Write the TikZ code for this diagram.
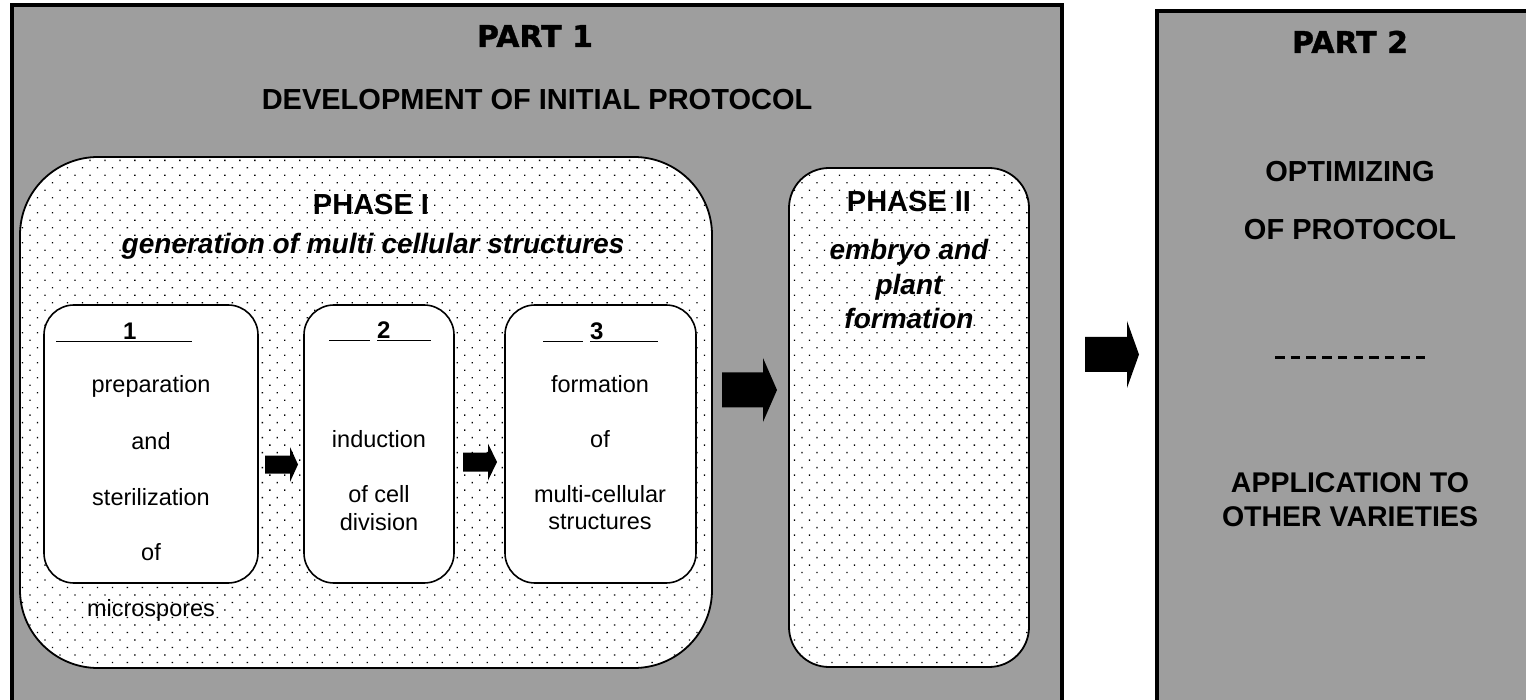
\documentclass[tikz,border=0pt]{standalone}
\usepackage{fontspec}
\setmainfont{Liberation Sans}
\newfontfamily\heavyfont{DejaVu Sans}[BoldFeatures={FakeBold=1.2}]
\usetikzlibrary{patterns.meta}

% solid block arrow: shaft x1..x2, tip at x3, centre line y, half shaft, half head
\newcommand\blockarrow[6]{%
  \fill (#1,#4-#5) -- (#2,#4-#5) -- (#2,#4-#6) -- (#3,#4) -- (#2,#4+#6)
        -- (#2,#4+#5) -- (#1,#4+#5) -- cycle;}

\tikzset{
  partbox/.style={draw=black, line width=3.5pt, fill=black!38},
  phasebox/.style={draw=black, line width=1.8pt, fill=white,
    postaction={pattern={Dots[radius=0.95pt, distance=10.6pt, angle=45]},
                pattern color=black}},
  stepbox/.style={draw=black, line width=1.6pt, fill=white, rounded corners=30pt},
  parttitle/.style={font=\fontsize{30}{36}\selectfont\heavyfont\bfseries, inner sep=0pt, anchor=base},
  heading/.style={font=\fontsize{29}{35}\selectfont\bfseries, inner sep=0pt, anchor=base},
  subheading/.style={font=\fontsize{28}{34.5}\selectfont\bfseries\itshape, inner sep=0pt, anchor=base},
  steptext/.style={font=\fontsize{23.5}{28}\selectfont, inner sep=0pt, anchor=base},
  stepnum/.style={font=\fontsize{24}{28}\selectfont\bfseries, inner sep=0pt, anchor=base west},
}

\begin{document}
\begin{tikzpicture}[x=1pt, y=-1pt]
  \clip (0,0) rectangle (1526,700);
  \fill[white] (0,0) rectangle (1526,700);

  % ---- Part 1 -------------------------------------------------------
  \draw[partbox] (12,5) rectangle (1062,730);
  \node[parttitle] (p1title) at (535,47) {PART 1};
  \node[heading] (p1sub) at (537,110) {DEVELOPMENT OF INITIAL PROTOCOL};

  % phase I
  \draw[phasebox, rounded corners=78pt] (20,157) rectangle (712,668);
  \node[heading] (ph1) at (371,215) {PHASE I};
  \node[subheading] (ph1sub) at (373,254) {generation of multi cellular structures};

  % steps of phase I
  \draw[stepbox] (44,305) rectangle (258,583);
  \draw[stepbox] (304,305) rectangle (454,583);
  \draw[stepbox] (505,305) rectangle (696,583);

  \node[stepnum] (n1) at (56,340) {\underline{\hspace{67pt}1\hspace{55pt}}};
  \node[stepnum] (n2) at (329,339) {\underline{\hspace{41pt}}\hspace{7pt}\underline{2\hspace{40pt}}};
  \node[stepnum] (n3) at (543,340) {\underline{\hspace{40pt}}\hspace{7pt}\underline{3\hspace{54pt}}};

  \node[steptext] (s1) at (151,393) {\begin{tabular}[t]{@{}c@{}}
      preparation\\[28pt] and\\[28pt] sterilization\\[28pt] of\\[28pt] microspores\end{tabular}};
  \node[steptext] (s2) at (379,447) {\begin{tabular}[t]{@{}c@{}}
      induction\\[27pt] of cell\\ division\end{tabular}};
  \node[steptext] (s3) at (600,392) {\begin{tabular}[t]{@{}c@{}}
      formation\\[27pt] of\\[27pt] multi-cellular\\ structures\end{tabular}};

  \blockarrow{265}{290}{298}{464.5}{9}{17.5}
  \blockarrow{463}{488}{497}{462}{9.5}{18.5}

  % phase II
  \blockarrow{722}{763}{777}{390}{17.5}{32}
  \draw[phasebox, rounded corners=40pt] (789,168) rectangle (1029,667);
  \node[heading] (ph2) at (909,212) {PHASE II};
  \node[subheading] (ph2sub) at (909,260) {\begin{tabular}[t]{@{}c@{}}
      embryo and\\ plant\\ formation\end{tabular}};

  % ---- Part 2 -------------------------------------------------------
  \blockarrow{1085}{1127}{1139}{354.5}{17.5}{33.5}
  \draw[partbox] (1157,11) rectangle (1560,730);
  \node[parttitle] (p2title) at (1350,53) {PART 2};
  \node[heading] (opt1) at (1350,182) {OPTIMIZING};
  \node[heading] (opt2) at (1350,240) {OF PROTOCOL};
  \coordinate (sepL) at (1275,358);
  \coordinate (sepR) at (1425,358);
  \draw[line width=3pt, dash pattern=on 9.5pt off 6.2pt] (sepL) -- (sepR);
  \node[heading, font=\fontsize{28.5}{35}\selectfont\bfseries] (app) at (1350,492)
    {\begin{tabular}[t]{@{}c@{}}APPLICATION TO\\[-0.5pt] OTHER VARIETIES\end{tabular}};
\end{tikzpicture}
\end{document}
